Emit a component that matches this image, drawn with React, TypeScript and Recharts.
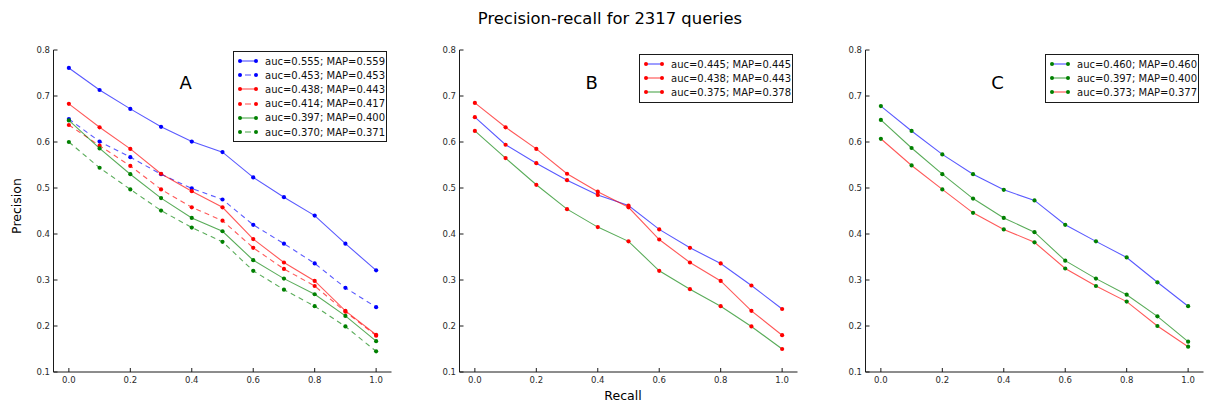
import { LineChart, Line, XAxis, YAxis, ReferenceDot } from "recharts"

// recall levels (x) shared by every curve
const RECALL = [0, 0.1, 0.2, 0.3, 0.4, 0.5, 0.6, 0.7, 0.8, 0.9, 1.0]

// panel A
const A_BLUE = [0.761, 0.713, 0.672, 0.633, 0.601, 0.578, 0.523, 0.48, 0.44, 0.379, 0.321]
const A_BLUE_DASH = [0.65, 0.601, 0.567, 0.53, 0.499, 0.475, 0.42, 0.379, 0.336, 0.283, 0.241]
const A_RED = [0.683, 0.632, 0.585, 0.531, 0.493, 0.458, 0.389, 0.338, 0.298, 0.233, 0.181]
const A_RED_DASH = [0.637, 0.592, 0.548, 0.497, 0.458, 0.429, 0.37, 0.324, 0.287, 0.231, 0.179]
const A_GREEN = [0.647, 0.586, 0.53, 0.478, 0.435, 0.406, 0.343, 0.303, 0.269, 0.222, 0.167]
const A_GREEN_DASH = [0.6, 0.544, 0.497, 0.451, 0.414, 0.383, 0.32, 0.279, 0.243, 0.199, 0.145]

// panel B
const B_BLUE = [0.654, 0.594, 0.554, 0.517, 0.485, 0.462, 0.41, 0.37, 0.336, 0.288, 0.237]
const B_RED = [0.685, 0.632, 0.585, 0.531, 0.492, 0.458, 0.388, 0.338, 0.298, 0.233, 0.18]
const B_GREEN = [0.624, 0.565, 0.507, 0.454, 0.415, 0.384, 0.32, 0.28, 0.243, 0.199, 0.15]

// panel C
const C_BLUE = [0.678, 0.624, 0.573, 0.53, 0.496, 0.473, 0.42, 0.384, 0.349, 0.295, 0.243]
const C_GREEN = [0.648, 0.587, 0.53, 0.477, 0.435, 0.404, 0.342, 0.303, 0.268, 0.221, 0.166]
const C_RED = [0.607, 0.549, 0.497, 0.446, 0.41, 0.382, 0.325, 0.287, 0.253, 0.2, 0.155]

const LABELS_A = [
  "auc=0.555; MAP=0.559",
  "auc=0.453; MAP=0.453",
  "auc=0.438; MAP=0.443",
  "auc=0.414; MAP=0.417",
  "auc=0.397; MAP=0.400",
  "auc=0.370; MAP=0.371",
]
const LABELS_B = ["auc=0.445; MAP=0.445", "auc=0.438; MAP=0.443", "auc=0.375; MAP=0.378"]
const LABELS_C = ["auc=0.460; MAP=0.460", "auc=0.397; MAP=0.400", "auc=0.373; MAP=0.377"]

const X_TICKS = [0, 0.2, 0.4, 0.6, 0.8, 1.0]
const Y_TICKS = [0.1, 0.2, 0.3, 0.4, 0.5, 0.6, 0.7, 0.8]

const FONT = "'DejaVu Sans', sans-serif"
const BLUE = "#0000ff"
const RED = "#ff0000"
const GREEN = "#008000"
const FRAME = "#1a1a1a"
const TICK = { fill: "#2a2a2a", fontSize: 8.5, fontFamily: FONT }

type Series = {
  key: string
  label: string
  values: number[]
  line: string
  marker: string
  dashed?: boolean
}

const PANEL_A: Series[] = [
  { key: "a0", label: LABELS_A[0], values: A_BLUE, line: BLUE, marker: BLUE },
  { key: "a1", label: LABELS_A[1], values: A_BLUE_DASH, line: BLUE, marker: BLUE, dashed: true },
  { key: "a2", label: LABELS_A[2], values: A_RED, line: RED, marker: RED },
  { key: "a3", label: LABELS_A[3], values: A_RED_DASH, line: RED, marker: RED, dashed: true },
  { key: "a4", label: LABELS_A[4], values: A_GREEN, line: GREEN, marker: GREEN },
  { key: "a5", label: LABELS_A[5], values: A_GREEN_DASH, line: GREEN, marker: GREEN, dashed: true },
]
const PANEL_B: Series[] = [
  { key: "b0", label: LABELS_B[0], values: B_BLUE, line: BLUE, marker: RED },
  { key: "b1", label: LABELS_B[1], values: B_RED, line: RED, marker: RED },
  { key: "b2", label: LABELS_B[2], values: B_GREEN, line: GREEN, marker: RED },
]
const PANEL_C: Series[] = [
  { key: "c0", label: LABELS_C[0], values: C_BLUE, line: BLUE, marker: GREEN },
  { key: "c1", label: LABELS_C[1], values: C_GREEN, line: GREEN, marker: GREEN },
  { key: "c2", label: LABELS_C[2], values: C_RED, line: RED, marker: GREEN },
]

function LegendBox({ series, top }: { series: Series[]; top: number }) {
  return (
    <div
      style={{
        position: "absolute",
        top,
        right: 13,
        width: 152,
        border: `1px solid ${FRAME}`,
        background: "#fff",
        padding: "2px 0",
        fontFamily: FONT,
        fontSize: 10,
        color: "#111",
      }}
    >
      {series.map((s) => (
        <div key={s.key} style={{ display: "flex", alignItems: "center", height: 14.2 }}>
          <svg width={26} height={14} style={{ flex: "none" }}>
            <line
              x1={6}
              x2={22}
              y1={7}
              y2={7}
              stroke={s.line}
              strokeOpacity={0.7}
              strokeWidth={1.1}
              strokeDasharray={s.dashed ? "0 5 6 5" : undefined}
            />
            <circle cx={6} cy={7} r={2} fill={s.marker} />
            <circle cx={22} cy={7} r={2} fill={s.marker} />
          </svg>
          <span style={{ marginLeft: 5, whiteSpace: "nowrap" }}>{s.label}</span>
        </div>
      ))}
    </div>
  )
}

function Panel({
  letter,
  series,
  left,
  legendTop,
}: {
  letter: string
  series: Series[]
  left: number
  legendTop: number
}) {
  const data = RECALL.map((r, i) => {
    const row: Record<string, number> = { r }
    series.forEach((s) => (row[s.key] = s.values[i]))
    return row
  })
  return (
    <div style={{ position: "absolute", left, top: 0, width: 400, height: 412 }}>
      <LineChart width={400} height={412} data={data} margin={{ top: 50, right: 8.5, left: 23.5, bottom: 20 }}>
        <XAxis
          dataKey="r"
          type="number"
          domain={[-0.05, 1.05]}
          ticks={X_TICKS}
          tickFormatter={(v: number) => v.toFixed(1)}
          tick={TICK}
          height={20}
          tickSize={-4}
          tickMargin={9}
          axisLine={{ stroke: FRAME }}
          tickLine={{ stroke: FRAME }}
          allowDataOverflow
        />
        <XAxis
          xAxisId="top"
          orientation="top"
          type="number"
          domain={[-0.05, 1.05]}
          ticks={X_TICKS}
          tick={false}
          height={0}
          tickSize={-4}
          axisLine={{ stroke: FRAME }}
          tickLine={{ stroke: FRAME }}
          allowDataOverflow
        />
        <YAxis
          type="number"
          domain={[0.1, 0.8]}
          ticks={Y_TICKS}
          tickFormatter={(v: number) => v.toFixed(1)}
          tick={TICK}
          width={30}
          tickSize={-4}
          tickMargin={7.5}
          axisLine={{ stroke: FRAME }}
          tickLine={{ stroke: FRAME }}
          allowDataOverflow
        />
        <YAxis
          yAxisId="right"
          orientation="right"
          type="number"
          domain={[0.1, 0.8]}
          ticks={Y_TICKS}
          tick={false}
          width={0}
          tickSize={-4}
          axisLine={{ stroke: FRAME }}
          tickLine={{ stroke: FRAME }}
          allowDataOverflow
        />
        {series.map((s) => (
          <Line
            key={s.key}
            type="linear"
            dataKey={s.key}
            stroke={s.line}
            strokeOpacity={0.65}
            strokeWidth={1.1}
            strokeDasharray={s.dashed ? "5 4" : undefined}
            dot={{ r: 2.1, fill: s.marker, stroke: "none" }}
            activeDot={false}
            isAnimationActive={false}
          />
        ))}
        <ReferenceDot
          x={0.38}
          y={0.729}
          r={0}
          fill="none"
          stroke="none"
          label={{ value: letter, position: "center", fontSize: 18, fill: "#000", fontFamily: FONT }}
        />
      </LineChart>
      <LegendBox series={series} top={legendTop} />
    </div>
  )
}

export default function App() {
  return (
    <div style={{ position: "absolute", left: 0, top: 0, width: 1207, height: 412, background: "#fff" }}>
      <Panel letter="A" series={PANEL_A} left={0} legendTop={51} />
      <Panel letter="B" series={PANEL_B} left={406} legendTop={54} />
      <Panel letter="C" series={PANEL_C} left={812} legendTop={54} />
      <svg
        width={1207}
        height={412}
        style={{ position: "absolute", left: 0, top: 0, pointerEvents: "none" }}
        fontFamily={FONT}
      >
        <text x={610} y={24} textAnchor="middle" fontSize={16.4} fill="#000">
          Precision-recall for 2317 queries
        </text>
        <text
          transform="translate(16,206) rotate(-90)"
          textAnchor="middle"
          dominantBaseline="central"
          fontSize={12.5}
          fill="#000"
        >
          Precision
        </text>
        <text x={623} y={395} textAnchor="middle" dominantBaseline="central" fontSize={12.5} fill="#000">
          Recall
        </text>
      </svg>
    </div>
  )
}
